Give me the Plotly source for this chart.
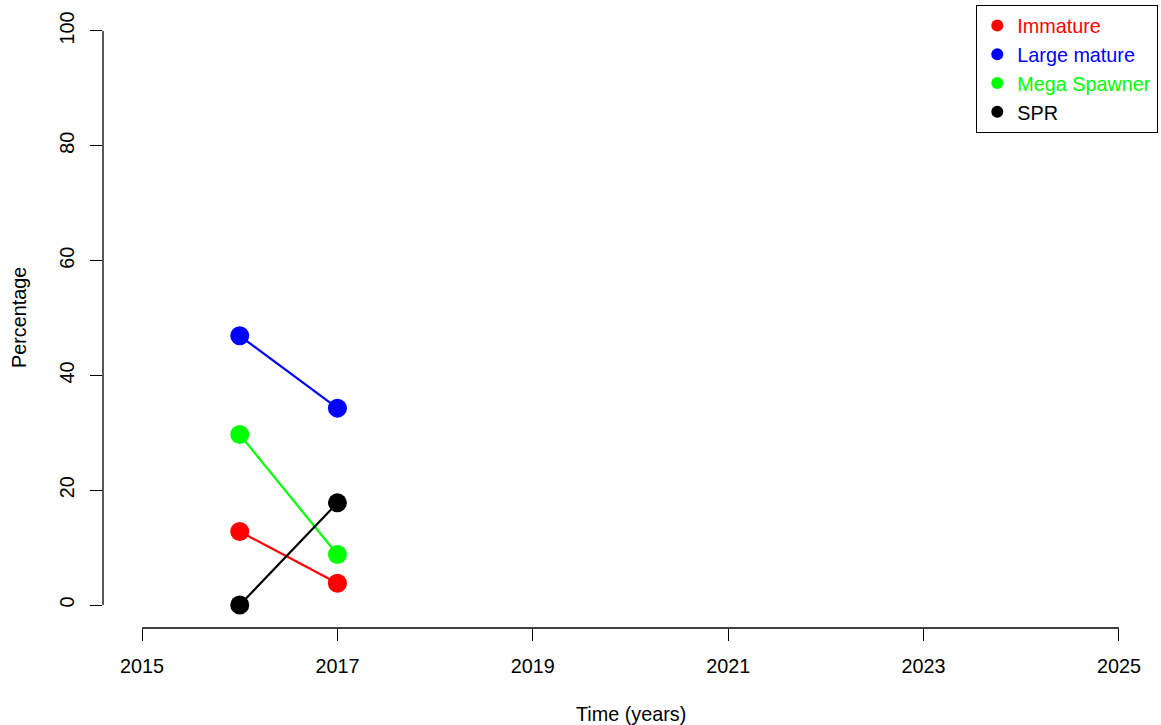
import plotly.graph_objects as go

years = [2016, 2017]
immature = [12.8, 3.8]
large_mature = [46.9, 34.3]
mega_spawner = [29.7, 8.8]
spr = [0.0, 17.8]

series_names = ["Immature", "Large mature", "Mega Spawner", "SPR"]
series_values = [immature, large_mature, mega_spawner, spr]
series_colors = ["#FF0000", "#0000FF", "#00FF00", "#000000"]

x_ticks = [2015, 2017, 2019, 2021, 2023, 2025]
y_ticks = [0, 20, 40, 60, 80, 100]

FONT = "Liberation Sans, Arial, sans-serif"
FS = 19.8

fig = go.Figure()
for name, vals, col in zip(series_names, series_values, series_colors):
    fig.add_trace(go.Scatter(
        x=years, y=vals, mode="lines+markers",
        line=dict(color=col, width=2.2),
        marker=dict(color=col, size=19),
        showlegend=False, hoverinfo="skip",
    ))
for name, col in zip(series_names, series_colors):
    fig.add_trace(go.Scatter(
        x=[None], y=[None], mode="markers",
        marker=dict(color=col, size=12),
        name=f'<span style="color:{col}">{name}</span>',
        showlegend=True,
    ))

fig.update_layout(
    width=1161, height=725,
    margin=dict(l=103, r=3, t=8, b=97),
    paper_bgcolor="white", plot_bgcolor="white",
    font=dict(family=FONT, size=FS, color="black"),
    legend=dict(
        x=1, y=1.005, xanchor="right", yanchor="top",
        bordercolor="black", borderwidth=1.3, bgcolor="white",
        font=dict(family=FONT, size=FS),
        tracegroupgap=0, itemsizing="trace",
    ),
    xaxis=dict(
        range=[2014.6, 2025.4], tickmode="array", tickvals=x_ticks,
        ticktext=[str(t) for t in x_ticks],
        ticks="outside", ticklen=12, tickwidth=1.3, tickcolor="black",
        showgrid=False, zeroline=False, showline=False,
        ticklabelstandoff=8, automargin=False,
    ),
    yaxis=dict(
        range=[-4, 104], tickmode="array", tickvals=y_ticks,
        ticktext=[str(t) for t in y_ticks],
        ticks="outside", ticklen=12, tickwidth=1.3, tickcolor="black",
        showgrid=False, zeroline=False, showline=False,
        tickangle=-90, ticklabelstandoff=8, automargin=False,
    ),
    shapes=[
        dict(type="line", xref="x", yref="paper", x0=x_ticks[0], x1=x_ticks[-1],
             y0=0, y1=0, line=dict(color="black", width=1.3)),
        dict(type="line", xref="paper", yref="y", x0=0, x1=0,
             y0=y_ticks[0], y1=y_ticks[-1], line=dict(color="black", width=1.3)),
    ],
    annotations=[
        dict(text="Time (years)", xref="paper", yref="paper", x=0.5, y=0,
             yshift=-99, showarrow=False, font=dict(family=FONT, size=FS)),
        dict(text="Percentage", xref="paper", yref="paper", x=0, y=0.5,
             xshift=-97, textangle=-90, showarrow=False, font=dict(family=FONT, size=FS)),
    ],
)

fig.write_html(
    "out.html",
    config={"displayModeBar": False},
    post_script="document.body.style.margin='0px';document.body.style.overflow='hidden';",
)
